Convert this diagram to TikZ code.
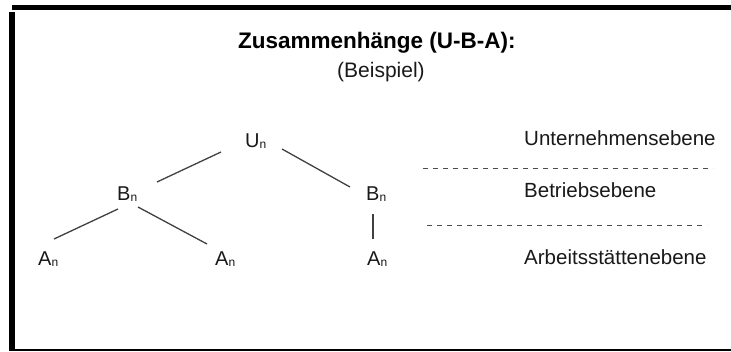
\documentclass[tikz,border=0pt]{standalone}
\usepackage{fontspec}
\setmainfont{Liberation Sans}
\usetikzlibrary{calc}
\newcommand{\subn}{{\fontsize{12}{12}\selectfont\raisebox{-1.5pt}{n}}}
\tikzset{
  lbl/.style={anchor=base west,inner sep=0pt,font=\fontsize{20.5}{24}\selectfont,text=black!90},
  tn/.style={anchor=base west,inner sep=0pt,font=\fontsize{20}{24}\selectfont,text=black!90},
  edge/.style={draw=black!75,line width=1.3pt},
  sep/.style={draw=black!70,line width=0.9pt,dash pattern=on 5pt off 5pt},
  frame/.style={fill=black}
}
\begin{document}
\begin{tikzpicture}[x=1pt,y=-1pt]
\useasboundingbox (0,0) rectangle (731,351);
% frame
\fill[frame] (12,5) rectangle (731,10);
\fill[frame] (9,12) rectangle (15,351);
\fill[frame] (15,348.5) rectangle (731,350.5);
% title
\node[anchor=base west,inner sep=0pt,font=\fontsize{22.5}{26}\selectfont\bfseries] (title) at (238,48) {Zusammenhänge (U-B-A):};
\node[anchor=base west,inner sep=0pt,font=\fontsize{21}{24}\selectfont,text=black!90] (sub) at (337,77) {(Beispiel)};
% tree nodes
\node[tn] (U) at (245,147) {U\subn};
\node[tn] (Bl) at (117,200) {B\subn};
\node[tn] (Br) at (366,200) {B\subn};
\node[tn] (Al) at (38,265) {A\subn};
\node[tn] (Am) at (215,265) {A\subn};
\node[tn] (Ar) at (367,265) {A\subn};
% connectors
\draw[edge] ($(U.base west)+(-24,5)$) -- ($(Bl.base west)+(40,-18)$);
\draw[edge] ($(U.base west)+(37,2)$) -- ($(Br.base west)+(-16,-13)$);
\draw[edge] ($(Bl.base west)+(1,9)$) -- ($(Al.base west)+(16,-26)$);
\draw[edge] ($(Bl.base west)+(21,7)$) -- ($(Am.base west)+(-8,-21)$);
\draw[edge] ($(Br.base west)+(7,14)$) -- ($(Ar.base west)+(6,-26)$);
% level labels
\node[lbl] (lu) at (524,145) {Unternehmensebene};
\node[lbl] (lb) at (524,197) {Betriebsebene};
\node[lbl] (la) at (524,264) {Arbeitsstättenebene};
% separators
\draw[sep] (423,168) -- (713,168);
\draw[sep] (427,225) -- (707,225);
\end{tikzpicture}
\end{document}
